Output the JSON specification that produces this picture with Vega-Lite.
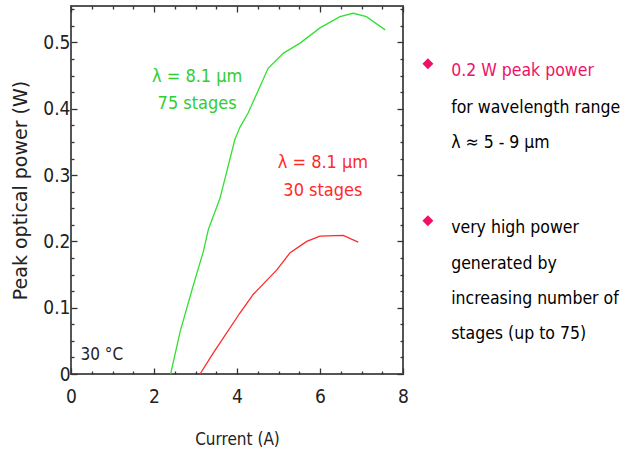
{
  "$schema": "https://vega.github.io/schema/vega-lite/v6.json",
  "width": 332,
  "height": 368,
  "padding": {"left": 11, "top": 0, "right": 0, "bottom": 0},
  "background": "white",
  "config": {
    "view": {"stroke": "#555555", "strokeWidth": 2},
    "font": "DejaVu Sans Condensed, Liberation Sans"
  },
  "datasets": {
    "curves": [
      {"series": "75 stages", "current": 2.40, "power": 0.0},
      {"series": "75 stages", "current": 2.63, "power": 0.064},
      {"series": "75 stages", "current": 2.93, "power": 0.13},
      {"series": "75 stages", "current": 3.19, "power": 0.185},
      {"series": "75 stages", "current": 3.31, "power": 0.218},
      {"series": "75 stages", "current": 3.59, "power": 0.265},
      {"series": "75 stages", "current": 3.95, "power": 0.354},
      {"series": "75 stages", "current": 4.07, "power": 0.372},
      {"series": "75 stages", "current": 4.27, "power": 0.394},
      {"series": "75 stages", "current": 4.75, "power": 0.461},
      {"series": "75 stages", "current": 5.12, "power": 0.484},
      {"series": "75 stages", "current": 5.52, "power": 0.499},
      {"series": "75 stages", "current": 6.0, "power": 0.522},
      {"series": "75 stages", "current": 6.48, "power": 0.539},
      {"series": "75 stages", "current": 6.8, "power": 0.544},
      {"series": "75 stages", "current": 7.12, "power": 0.539},
      {"series": "75 stages", "current": 7.57, "power": 0.519},
      {"series": "30 stages", "current": 3.11, "power": 0.0},
      {"series": "30 stages", "current": 3.43, "power": 0.032},
      {"series": "30 stages", "current": 4.07, "power": 0.092},
      {"series": "30 stages", "current": 4.39, "power": 0.12},
      {"series": "30 stages", "current": 4.96, "power": 0.157},
      {"series": "30 stages", "current": 5.28, "power": 0.183},
      {"series": "30 stages", "current": 5.68, "power": 0.2},
      {"series": "30 stages", "current": 6.0, "power": 0.208},
      {"series": "30 stages", "current": 6.56, "power": 0.209},
      {"series": "30 stages", "current": 6.92, "power": 0.199}
    ],
    "labels": [
      {"text": "λ = 8.1 μm", "x": 3.04, "y": 0.441, "color": "#33cc33", "size": 18, "align": "center"},
      {"text": "75 stages", "x": 3.04, "y": 0.399, "color": "#33cc33", "size": 18, "align": "center"},
      {"text": "λ = 8.1 μm", "x": 6.07, "y": 0.310, "color": "#ff2a2a", "size": 18, "align": "center"},
      {"text": "30 stages", "x": 6.07, "y": 0.268, "color": "#ff2a2a", "size": 18, "align": "center"},
      {"text": "30 °C", "x": 0.23, "y": 0.021, "color": "#222222", "size": 17, "align": "left"},
      {"text": "0.2 W peak power", "x": 9.16, "y": 0.449, "color": "#ee1166", "size": 17.5, "align": "left"},
      {"text": "for wavelength range", "x": 9.16, "y": 0.393, "color": "#000000", "size": 17.5, "align": "left"},
      {"text": "λ ≈ 5 - 9 μm", "x": 9.16, "y": 0.341, "color": "#000000", "size": 17.5, "align": "left"},
      {"text": "very high power", "x": 9.16, "y": 0.212, "color": "#000000", "size": 17.5, "align": "left"},
      {"text": "generated by", "x": 9.16, "y": 0.159, "color": "#000000", "size": 17.5, "align": "left"},
      {"text": "increasing number of", "x": 9.16, "y": 0.105, "color": "#000000", "size": 17.5, "align": "left"},
      {"text": "stages (up to 75)", "x": 9.16, "y": 0.0523, "color": "#000000", "size": 17.5, "align": "left"}
    ],
    "bullets": [
      {"x": 8.6, "y": 0.468},
      {"x": 8.6, "y": 0.231}
    ]
  },
  "layer": [
    {
      "data": {"name": "curves"},
      "mark": {"type": "line", "strokeWidth": 1.3},
      "encoding": {
        "x": {
          "field": "current", "type": "quantitative",
          "scale": {"domain": [0, 8], "nice": false, "zero": false},
          "axis": {
            "orient": "bottom",
            "title": "Current  (A)",
            "titleFontSize": 17,
            "titleFontWeight": "normal",
            "titleColor": "#222222",
            "titlePadding": 22,
            "values": [0, 0.5, 1, 1.5, 2, 2.5, 3, 3.5, 4, 4.5, 5, 5.5, 6, 6.5, 7, 7.5, 8],
            "labelExpr": "datum.value % 2 === 0 ? format(datum.value, 'd') : ''",
            "labelFontSize": 19,
            "labelColor": "#222222",
            "labelPadding": 19,
            "labelOverlap": false,
            "labelFlush": false,
            "domain": false,
            "grid": false,
            "tickColor": "#333333",
            "tickWidth": 1.3,
            "tickSize": {"condition": {"test": "datum.value % 2 === 0", "value": -6}, "value": -3}
          }
        },
        "y": {
          "field": "power", "type": "quantitative",
          "scale": {"domain": [0, 0.555], "nice": false, "zero": false},
          "axis": {
            "orient": "left",
            "title": "Peak optical power  (W)",
            "titleFont": "DejaVu Sans",
            "titleFontSize": 19,
            "titleFontWeight": "normal",
            "titleColor": "#222222",
            "titlePadding": 12,
            "values": [0, 0.025, 0.05, 0.075, 0.1, 0.125, 0.15, 0.175, 0.2, 0.225, 0.25, 0.275, 0.3, 0.325, 0.35, 0.375, 0.4, 0.425, 0.45, 0.475, 0.5, 0.525, 0.55],
            "labelExpr": "abs(datum.value * 10 - round(datum.value * 10)) < 0.001 ? (datum.value === 0 ? '0' : format(datum.value, '.1f')) : ''",
            "labelFontSize": 19,
            "labelColor": "#222222",
            "labelPadding": 7,
            "labelOverlap": false,
            "labelFlush": false,
            "domain": false,
            "grid": false,
            "tickColor": "#333333",
            "tickWidth": 1.3,
            "tickSize": {"condition": {"test": "abs(datum.value * 10 - round(datum.value * 10)) < 0.001", "value": -6}, "value": -3}
          }
        },
        "color": {
          "field": "series", "type": "nominal",
          "scale": {"domain": ["75 stages", "30 stages"], "range": ["#33e033", "#ff2a2a"]},
          "legend": null
        }
      }
    },
    {
      "data": {"name": "labels"},
      "transform": [{"filter": "datum.align === 'center'"}],
      "mark": {"type": "text", "baseline": "alphabetic", "align": "center"},
      "encoding": {
        "x": {
          "field": "x", "type": "quantitative",
          "axis": {
            "orient": "top", "title": null, "labels": false, "domain": false, "grid": false,
            "values": [0, 0.5, 1, 1.5, 2, 2.5, 3, 3.5, 4, 4.5, 5, 5.5, 6, 6.5, 7, 7.5, 8],
            "tickColor": "#333333", "tickWidth": 1.3,
            "tickSize": {"condition": {"test": "datum.value % 2 === 0", "value": -6}, "value": -3}
          }
        },
        "y": {
          "field": "y", "type": "quantitative",
          "axis": {
            "orient": "right", "title": null, "labels": false, "domain": false, "grid": false,
            "values": [0, 0.025, 0.05, 0.075, 0.1, 0.125, 0.15, 0.175, 0.2, 0.225, 0.25, 0.275, 0.3, 0.325, 0.35, 0.375, 0.4, 0.425, 0.45, 0.475, 0.5, 0.525, 0.55],
            "tickColor": "#333333", "tickWidth": 1.3,
            "tickSize": {"condition": {"test": "abs(datum.value * 10 - round(datum.value * 10)) < 0.001", "value": -6}, "value": -3}
          }
        },
        "text": {"field": "text"},
        "color": {"field": "color", "type": "nominal", "scale": null},
        "size": {"field": "size", "type": "quantitative", "scale": null}
      }
    },
    {
      "data": {"name": "labels"},
      "transform": [{"filter": "datum.align === 'left'"}],
      "mark": {"type": "text", "baseline": "alphabetic", "align": "left"},
      "encoding": {
        "x": {"field": "x", "type": "quantitative", "axis": null},
        "y": {"field": "y", "type": "quantitative", "axis": null},
        "text": {"field": "text"},
        "color": {"field": "color", "type": "nominal", "scale": null},
        "size": {"field": "size", "type": "quantitative", "scale": null}
      }
    },
    {
      "data": {"name": "bullets"},
      "mark": {"type": "point", "shape": "diamond", "filled": true, "size": 120, "color": "#ee1166", "opacity": 1},
      "encoding": {
        "x": {"field": "x", "type": "quantitative", "axis": null},
        "y": {"field": "y", "type": "quantitative", "axis": null}
      }
    }
  ],
  "resolve": {"axis": {"x": "independent", "y": "independent"}}
}
